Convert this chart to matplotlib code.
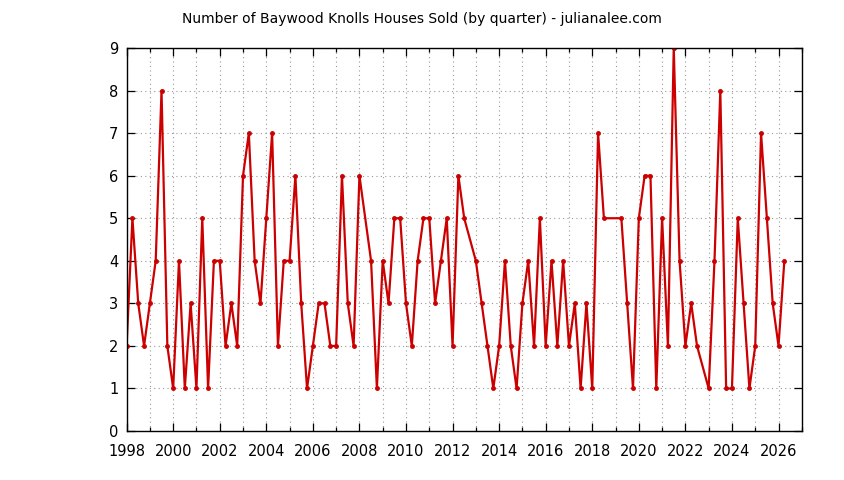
import numpy as np
import matplotlib.pyplot as plt
from matplotlib.ticker import MultipleLocator

# houses sold per quarter, starting 1998 Q1; None = quarter missing in the data
sold = [2, 5, 3, 2, 3, 4, 8, 2, 1, 4, 1, 3, 1, 5, 1, 4, 4, 2, 3, 2,
        6, 7, 4, 3, 5, 7, 2, 4, 4, 6, 3, 1, 2, 3, 3, 2, 2, 6, 3, 2,
        6, None, 4, 1, 4, 3, 5, 5, 3, 2, 4, 5, 5, 3, 4, 5, 2, 6, 5, None,
        4, 3, 2, 1, 2, 4, 2, 1, 3, 4, 2, 5, 2, 4, 2, 4, 2, 3, 1, 3,
        1, 7, 5, None, None, 5, 3, 1, 5, 6, 6, 1, 5, 2, 9, 4, 2, 3, 2, None,
        1, 4, 8, 1, 1, 5, 3, 1, 2, 7, 5, 3, 2, 4]
start_year = 1998
title = "Number of Baywood Knolls Houses Sold (by quarter) - julianalee.com"

x = [start_year + i / 4 for i, v in enumerate(sold) if v is not None]
y = [v for v in sold if v is not None]

fig = plt.figure(figsize=(8.44, 4.8), dpi=100)
ax = fig.add_axes([0.150, 0.102, 0.800, 0.798])

ax.plot(x, y, '-', c='#cc0000', lw=1.6, marker='o', ms=2.5, mec='#cc0000')

ax.set_xlim(1998, 2027)
ax.set_ylim(0, 9)
ax.xaxis.set_major_locator(MultipleLocator(2))
ax.xaxis.set_minor_locator(MultipleLocator(1))
ax.yaxis.set_major_locator(MultipleLocator(1))
ax.tick_params(which='both', direction='in', top=True, right=True,
               labelsize=10.5, colors='black')
ax.tick_params(which='major', length=6, width=0.9)
ax.tick_params(which='minor', length=3, width=0.9)
ax.tick_params(axis='y', pad=6)
ax.tick_params(axis='x', labelsize=10.5, pad=9)
ax.grid(which='both', color='#999999', lw=0.8, ls=(0, (1, 3)))
for s in ax.spines.values():
    s.set_linewidth(1.0)

fig.text(0.5, 0.96, title, ha='center', va='center', fontsize=10)

fig.savefig('out.png', dpi=100)
